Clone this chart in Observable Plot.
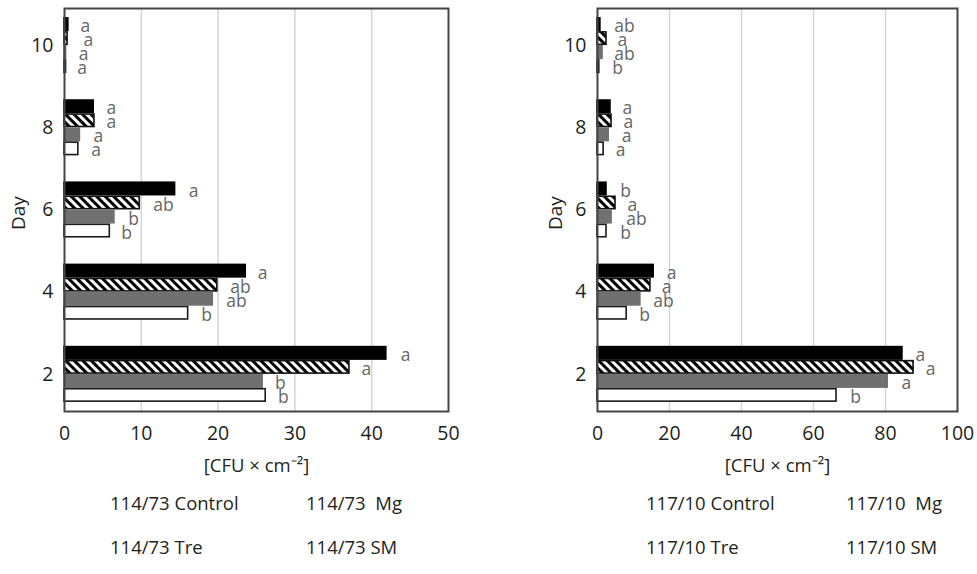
<!DOCTYPE html>
<html><head><meta charset="utf-8">
<script src="https://cdn.jsdelivr.net/npm/d3@7"></script>
<script src="https://cdn.jsdelivr.net/npm/@observablehq/plot@0.6"></script>
<style>
body{margin:0;background:#fff;font-family:"Open Sans",sans-serif;}
#wrap{position:relative;width:977px;height:574px;overflow:hidden;background:#fff}
.panel{position:absolute;top:0}
.leg{position:absolute;font-size:18.5px;line-height:24px;color:#231f20;white-space:pre;font-family:"Open Sans",sans-serif}
</style></head><body>
<svg width="0" height="0" style="position:absolute">
<defs><pattern id="hatch" patternUnits="userSpaceOnUse" width="6" height="6" patternTransform="rotate(-45)">
<rect width="6" height="6" fill="#fff"/><rect width="3" height="6" fill="#000"/></pattern></defs></svg>
<div id="wrap"></div>
<script>
// ---- data ----
const days = [10, 8, 6, 4, 2];
const series = ["Control", "Mg", "Tre", "SM"];

// strain 114/73 (values per day, in order of `days`)
const a_control = [0.5, 3.8, 14.4, 23.6, 41.9];
const a_mg      = [0.4, 3.9, 9.8, 19.9, 37.1];
const a_tre     = [0.2, 2.0, 6.5, 19.3, 25.8];
const a_sm      = [0.2, 1.8, 5.9, 16.1, 26.2];
// mean + SD (where the significance letter sits)
const a_control_top = [2.7, 6.1, 16.8, 25.8, 44.4];
const a_mg_top      = [3.1, 6.1, 12.9, 22.9, 39.3];
const a_tre_top     = [2.5, 4.4, 9.0, 22.4, 28.1];
const a_sm_top      = [2.3, 4.1, 8.1, 18.5, 28.5];
const a_control_let = ["a", "a", "a", "a", "a"];
const a_mg_let      = ["a", "a", "ab", "ab", "a"];
const a_tre_let     = ["a", "a", "b", "ab", "b"];
const a_sm_let      = ["a", "a", "b", "b", "b"];

// strain 117/10
const b_control = [0.8, 3.6, 2.5, 15.6, 84.7];
const b_mg      = [2.5, 3.9, 5.0, 14.7, 87.8];
const b_tre     = [1.4, 3.1, 3.9, 11.9, 80.6];
const b_sm      = [0.5, 1.7, 2.5, 8.1, 66.4];
const b_control_top = [7.5, 8.3, 7.8, 20.6, 89.7];
const b_mg_top      = [6.9, 8.6, 9.7, 19.2, 92.5];
const b_tre_top     = [7.5, 8.1, 10.8, 18.3, 85.8];
const b_sm_top      = [5.6, 6.4, 7.8, 13.1, 71.7];
const b_control_let = ["ab", "a", "b", "a", "a"];
const b_mg_let      = ["a", "a", "a", "a", "a"];
const b_tre_let     = ["ab", "a", "ab", "ab", "a"];
const b_sm_let      = ["b", "a", "b", "b", "b"];

const a_ticks = [0, 10, 20, 30, 40, 50];
const b_ticks = [0, 20, 40, 60, 80, 100];
const xLabel = "[CFU × cm⁻²]";
const a_legend = ["114/73 Control", "114/73  Mg", "114/73 Tre", "114/73 SM"];
const b_legend = ["117/10 Control", "117/10  Mg", "117/10 Tre", "117/10 SM"];

// ---- build ----
function rowsOf(vals, tops, lets) {
  const rows = [];
  series.forEach((s, i) => days.forEach((d, j) => rows.push({day: d, series: s, i, value: vals[i][j], top: tops[i][j], letter: lets[i][j]})));
  return rows;
}
const styles = [
  {fill: "#000", stroke: "#000"},
  {fill: "url(#hatch)", stroke: "#111"},
  {fill: "#707070", stroke: "#707070"},
  {fill: "#fff", stroke: "#1a1a1a"}
];

function makePlot(rows, ticks, width, marginRight, dayDx, bw) {
  const q = bw / 4;
  const marks = [
    Plot.ruleX(ticks.slice(1, -1), {stroke: "#d6d6d6", strokeWidth: 1.5})
  ];
  series.forEach((s, i) => {
    const r = rows.filter(d => d.i === i);
    marks.push(Plot.barX(r, {x: "value", y: "day", ...styles[i], strokeWidth: 1.6,
      insetTop: i * q + 0.8, insetBottom: (3 - i) * q + 0.8}));
    marks.push(Plot.text(r, {x: "top", y: "day", text: "letter", dy: (i - 1.5) * q + 2,
      fill: "#666", fontSize: 17.5}));
  });
  marks.push(Plot.frame({stroke: "#444", strokeWidth: 2}));
  marks.push(Plot.text([xLabel], {frameAnchor: "bottom", dy: 60, fontSize: 18.5, fill: "#231f20"}));
  marks.push(Plot.text(["Day"], {frameAnchor: "left", rotate: -90, dx: dayDx, dy: 20, fontSize: 19, fill: "#231f20"}));
  return Plot.plot({
    width, height: 480, marginLeft: 64, marginRight, marginTop: 8, marginBottom: 69,
    style: {fontFamily: '"Open Sans", sans-serif', fontSize: "18px", color: "#231f20", background: "transparent", overflow: "visible"},
    x: {domain: [ticks[0], ticks[ticks.length - 1]], ticks, tickSize: 0, tickPadding: 15, label: null},
    y: {domain: days, type: "band", paddingInner: 0.317, paddingOuter: 0.11, round: false, tickSize: 0, tickPadding: 11, label: null},
    marks
  });
}

function panel(rows, ticks, left, width, marginRight, dayDx, legend, legX) {
  let p = makePlot(rows, ticks, width, marginRight, dayDx, 56);
  const bw = p.scale("y").bandwidth;
  p = makePlot(rows, ticks, width, marginRight, dayDx, bw);
  p.classList.add("panel");
  p.style.left = left + "px";
  const wrap = document.getElementById("wrap");
  wrap.appendChild(p);
  // enlarge the axis tick labels
  p.querySelectorAll("text").forEach(t => {
    const g = t.closest('[aria-label*="axis"]');
    if (g) { t.setAttribute("font-size", "19.5"); t.style.fontSize = "19.5px"; }
  });
  const pos = [[legX[0], 491], [legX[1], 491], [legX[0], 535], [legX[1], 535]];
  legend.forEach((t, k) => {
    const el = document.createElement("div");
    el.className = "leg";
    el.textContent = t;
    el.style.left = pos[k][0] + "px";
    el.style.top = pos[k][1] + "px";
    wrap.appendChild(el);
  });
}

panel(rowsOf([a_control, a_mg, a_tre, a_sm], [a_control_top, a_mg_top, a_tre_top, a_sm_top], [a_control_let, a_mg_let, a_tre_let, a_sm_let]),
  a_ticks, 0, 470, 22, -46, a_legend, [110, 306]);
panel(rowsOf([b_control, b_mg, b_tre, b_sm], [b_control_top, b_mg_top, b_tre_top, b_sm_top], [b_control_let, b_mg_let, b_tre_let, b_sm_let]),
  b_ticks, 533, 444, 20, -42, b_legend, [646, 846]);
</script>
</body></html>
